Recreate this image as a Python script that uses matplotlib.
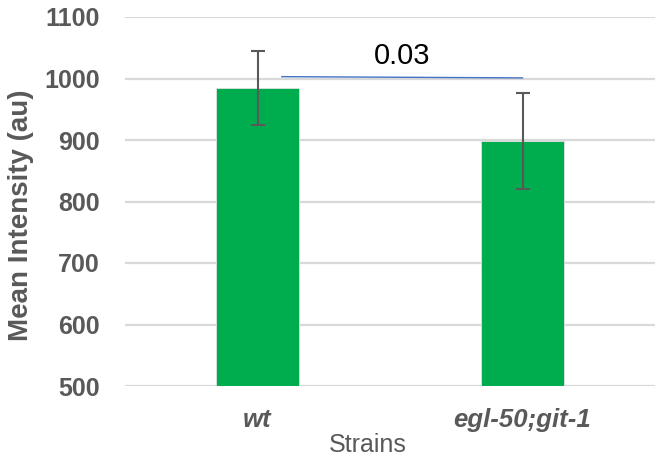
import matplotlib
matplotlib.use("Agg")
import matplotlib.pyplot as plt

categories = ["wt", "egl-50;git-1"]
means = [984, 899]
err_low = [60, 79]
err_high = [60, 78]
p_text = "0.03"
yticks = [500, 600, 700, 800, 900, 1000, 1100]

plt.rcParams['font.family'] = ['Liberation Sans', 'DejaVu Sans']
gray = "#595959"

fig = plt.figure(figsize=(6.56, 4.57), dpi=100)
ax = fig.add_axes([125/656, 1-386/457, 530/656, (386-17)/457])

x = list(range(len(categories)))
ax.bar(x, [m - 500 for m in means], bottom=500, width=0.313, color="#00AD4E",
       edgecolor="#E0E0E0", linewidth=0.6, zorder=3)
ax.errorbar(x, means, yerr=[err_low, err_high], fmt="none", ecolor=gray,
            elinewidth=1.5, capsize=5, capthick=1.5, zorder=4)

ax.set_xlim(-0.5, 1.5)
ax.set_ylim(500, 1100)
ax.set_yticks(yticks)
ax.set_yticklabels([str(t) for t in yticks], fontsize=18, fontweight="bold", color=gray)
ax.set_xticks(x)
ax.set_xticklabels(categories, fontsize=18.5, fontweight="bold", style="italic", color=gray)
ax.tick_params(axis="both", length=0)
ax.tick_params(axis="y", pad=18)
ax.tick_params(axis="x", pad=16)
ax.grid(axis="y", color="#D9D9D9", linewidth=1.6, zorder=0)
ax.set_axisbelow(True)
for s in ax.spines.values():
    s.set_visible(False)

# significance line and label
ax.plot([0.092, 1.0], [1003, 1001], color="#4472C4", linewidth=1.0, zorder=5)
ax.text(0.545, 1037, p_text, ha="center", va="center", fontsize=21, color="black")

fig.text(21/656, 1-215/457, "Mean Intensity (au)", rotation=90, ha="center", va="center",
         fontsize=20, fontweight="bold", color=gray)
fig.text(368/656, 1-445/457, "Strains", ha="center", va="center", fontsize=18, color=gray)

fig.savefig("out.png", dpi=100)
